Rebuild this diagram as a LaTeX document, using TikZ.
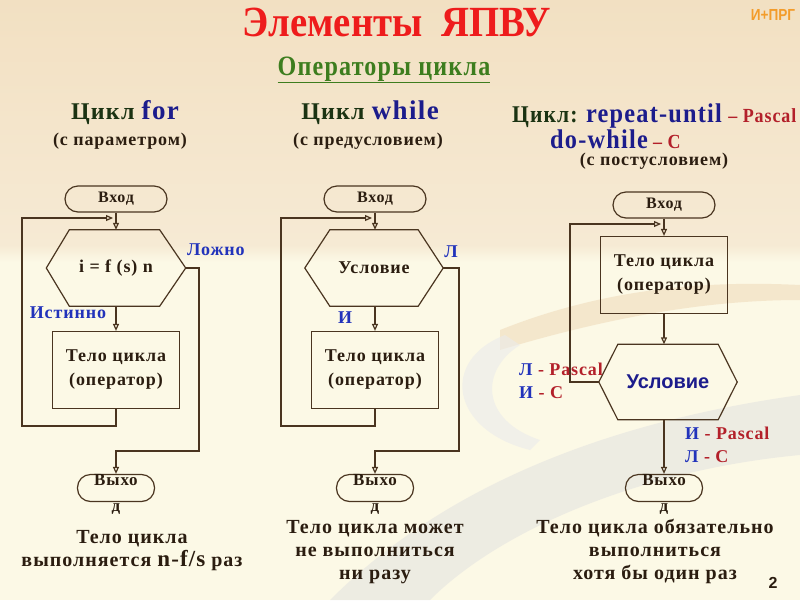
\documentclass[tikz,border=0pt]{standalone}
\usepackage{fontspec}
\usepackage{graphicx}
\setmainfont{Liberation Serif}[LetterSpace=5]
\newfontfamily\titf{Liberation Serif}
\newfontfamily\sansf{Liberation Sans}
\usetikzlibrary{arrows.meta}
\definecolor{lc}{HTML}{4A3520}
\definecolor{tc}{HTML}{2B1D10}
\definecolor{dgreen}{HTML}{1B3312}
\definecolor{navy}{HTML}{1C1C8C}
\definecolor{pred}{HTML}{B3202A}
\definecolor{lblue}{HTML}{2233BB}
\definecolor{titred}{HTML}{EE1C1C}
\definecolor{ugreen}{HTML}{3D7D1E}
\definecolor{orng}{HTML}{F39C2A}
\definecolor{bgtop}{HTML}{F2E0C2}
\definecolor{bgmid}{HTML}{F6EAD4}
\definecolor{bglow}{HTML}{FCF9E6}
\newcommand\cnd[2][0.82]{\scalebox{#1}[1]{#2}}
\newcommand\hexa[3]{\draw[ln] (#1.west) -- ([xshift=#2]#1.north west) -- ([xshift=-#3]#1.north east) -- (#1.east) -- ([xshift=-#3]#1.south east) -- ([xshift=#2]#1.south west) -- cycle;}
\begin{document}
\begin{tikzpicture}[x=1pt,y=-1pt,
  ln/.style={draw=lc, line width=1.2pt},
  arr/.style={ln, -{Triangle[open,length=7pt,width=6pt]}},
  term/.style={ln, rounded corners=13pt, minimum width=102pt, minimum height=26pt, inner sep=0pt, font=\bfseries\fontsize{16}{18}\selectfont, text=tc},
  exitbox/.style={ln, rounded corners=13pt, minimum width=77pt, minimum height=27pt, inner sep=0pt},
  exitlbl/.style={align=center, inner sep=0pt, font=\bfseries\fontsize{17}{26}\selectfont, text=tc},
  body/.style={ln, minimum width=127pt, minimum height=77pt, align=center, inner sep=0pt, font=\bfseries\fontsize{18}{24}\selectfont, text=tc},
  hexcore/.style={minimum width=139pt, minimum height=76pt, inner sep=0pt, font=\bfseries\fontsize{18}{20}\selectfont, text=tc},
  lbl/.style={inner sep=0pt, font=\bfseries\fontsize{18}{20}\selectfont, text=lblue},
  hdr/.style={inner sep=0pt, font=\bfseries\fontsize{24}{26}\selectfont, text=dgreen},
  sub/.style={inner sep=0pt, font=\bfseries\fontsize{18}{20}\selectfont, text=tc},
  note/.style={inner sep=0pt, align=center, font=\bfseries\fontsize{20}{23}\selectfont, text=tc}
]
\useasboundingbox (0,0) rectangle (800,600);
% background
\shade[top color=bgtop, bottom color=bgmid] (0,0) rectangle (800,245);
\shade[top color=bgmid, bottom color=bglow] (0,245) rectangle (800,262);
\fill[bglow] (0,262) rectangle (800,600);
\fill[black!12, opacity=0.5] (330,600) .. controls (450,480) and (620,420) .. (800,395) -- (800,455) .. controls (640,470) and (500,530) .. (430,600) -- cycle;
\fill[bgtop, opacity=0.7] (500,330) .. controls (600,290) and (700,280) .. (800,285) -- (800,300) .. controls (700,300) and (600,320) .. (500,350) -- cycle;
\fill[black!8, opacity=0.6] (505,335) .. controls (440,360) and (450,430) .. (530,450) -- (540,440) .. controls (480,420) and (480,370) .. (520,345) -- cycle;

% titles
\node[inner sep=0pt, text=titred, font=\titf\bfseries\fontsize{43}{46}\selectfont] (title) at (397,22) {\cnd[0.9]{Элементы\ \ ЯПВУ}};
\node[inner sep=0pt, text=orng, font=\sansf\bfseries\fontsize{16}{18}\selectfont] (brand) at (773,15) {\cnd[0.85]{И+ПРГ}};
\node[inner sep=0pt, text=ugreen, font=\bfseries\fontsize{28}{30}\selectfont] (subt) at (384,70) {\cnd[0.86]{\underline{Операторы цикла}}};

\node[hdr] (h1t) at (125,113) {Цикл {\color{navy}\fontsize{27}{28}\selectfont for}};
\node[sub] (h1s) at (120,141) {(с параметром)};
\node[hdr] (h2t) at (370,113) {Цикл {\color{navy}\fontsize{27}{28}\selectfont while}};
\node[sub] (h2s) at (368,141) {(с предусловием)};
\node[hdr, anchor=west] (h3t) at (512,116) {\cnd[0.9]{Цикл: {\color{navy}\fontsize{27}{28}\selectfont repeat-until} {\color{pred}\fontsize{20}{22}\selectfont – Pascal}}};
\node[hdr, anchor=west] (h3u) at (550,139) {\cnd[0.9]{{\color{navy}\fontsize{27}{28}\selectfont do-while}{\color{pred}\fontsize{20}{22}\selectfont\ – С}}};
\node[sub] (h3s) at (654,161) {(с постусловием)};

% column 1: for
\node[term] (in1) at (116,199) {Вход};
\node[hexcore] (c1) at (116,268) {i = f (s) n};
\hexa{c1}{23pt}{26pt}
\node[body] (b1) at (116,370) {Тело цикла\\(оператор)};
\node[exitbox] (ex1) at (116,488) {};
\node[exitlbl] (ex1t) at (116,494) {Выхо\\д};
\coordinate (j1) at (113,218);
\draw[arr] (in1.south) -- (c1.north);
\draw[arr] (c1.south) -- (b1.north);
\draw[arr] (b1.south) -- (116,426) -- (22,426) -- (22,218) -- (j1);
\draw[arr] (c1.east) -- (199,268) -- (199,451) -- (116,451) -- (ex1.north);
\node[lbl, anchor=west] (f1) at (187,250) {Ложно};
\node[lbl] (t1) at (68,313) {Истинно};

% column 2: while
\node[term] (in2) at (375,199) {Вход};
\node[hexcore, minimum width=138pt] (c2) at (374,268) {Условие};
\hexa{c2}{25pt}{25pt}
\node[body] (b2) at (375,370) {Тело цикла\\(оператор)};
\node[exitbox] (ex2) at (375,488) {};
\node[exitlbl] (ex2t) at (375,494) {Выхо\\д};
\coordinate (j2) at (372,218);
\draw[arr] (in2.south) -- (c2.north -| in2.south);
\draw[arr] (c2.south -| b2.north) -- (b2.north);
\draw[arr] (b2.south) -- (375,426) -- (281,426) -- (281,218) -- (j2);
\draw[arr] (c2.east) -- (459,268) -- (459,451) -- (375,451) -- (ex2.north);
\node[lbl] (f2) at (451,252) {Л};
\node[lbl] (t2) at (345,318) {И};

% column 3: repeat-until / do-while
\node[term] (in3) at (664,205) {Вход};
\node[body] (b3) at (664,275) {Тело цикла\\(оператор)};
\node[hexcore, minimum width=138pt, minimum height=75pt, font=\sansf\bfseries\fontsize{20}{22}\selectfont, text=navy] (c3) at (668,382) {Условие};
\hexa{c3}{19pt}{19pt}
\node[exitbox] (ex3) at (664,488) {};
\node[exitlbl] (ex3t) at (664,494) {Выхо\\д};
\coordinate (j3) at (661,224);
\draw[arr] (in3.south) -- (b3.north);
\draw[arr] (b3.south) -- (b3.south |- c3.north);
\draw[arr] (c3.west) -- (570,382) -- (570,224) -- (j3);
\draw[arr] (b3.south |- c3.south) -- (ex3.north);
\node[lbl, anchor=west] (p3a) at (519,369) {Л {\color{pred}- Pascal}};
\node[lbl, anchor=west] (p3b) at (519,393) {И {\color{pred}- С}};
\node[lbl, anchor=west] (p3c) at (685,433) {И {\color{pred}- Pascal}};
\node[lbl, anchor=west] (p3d) at (685,457) {Л {\color{pred}- С}};

% notes
\node[note] (n1) at (132,551) {Тело цикла\\выполняется {\fontsize{23}{23}\selectfont n-f/s} раз};
\node[note] (n2) at (375,552) {Тело цикла может\\не выполниться\\ни разу};
\node[note] (n3) at (655,551) {Тело цикла обязательно\\выполниться\\хотя бы один раз};
\node[inner sep=0pt, text=tc, font=\sansf\bfseries\fontsize{16}{18}\selectfont] (pg) at (773,583) {2};
\end{tikzpicture}
\end{document}
